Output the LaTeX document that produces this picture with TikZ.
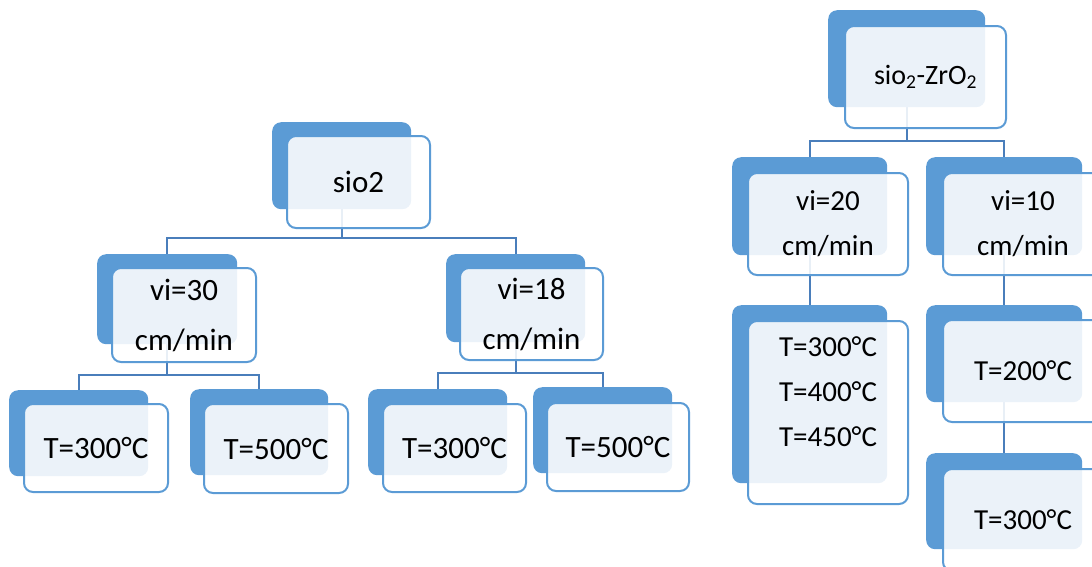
\documentclass[tikz,border=0pt]{standalone}
\usepackage{fontspec}
\setmainfont{Carlito}
\usetikzlibrary{positioning,calc,backgrounds}
\definecolor{smblue}{RGB}{91,155,213}
\definecolor{lnblue}{RGB}{74,126,187}

\begin{document}
\begin{tikzpicture}[
  x=1pt, y=-1pt,
  every node/.style={align=center, inner sep=0pt},
  back/.style={fill=smblue, rounded corners=9pt, anchor=north west},
  front/.style={draw=smblue, line width=2pt, fill=white, fill opacity=0.88,
    text opacity=1, rounded corners=9pt, anchor=north west},
  big/.style={font=\fontsize{31}{50}\selectfont},
  small/.style={font=\fontsize{29}{45}\selectfont},
  link/.style={draw=lnblue, line width=2pt}
]
\useasboundingbox (0,0) rectangle (1092,566);
\clip (0,0) rectangle (1092,566);

% left tree: sio2
\node[back, minimum width=139, minimum height=87] (sioB) at (272,122) {};
\node[front, big, minimum width=143, minimum height=92] (sio) at ($(sioB.north west)+(14,13)$) {sio2};

\node[back, minimum width=140, minimum height=90] (vaB) at (97,254) {};
\node[front, big, minimum width=144, minimum height=94] (va) at ($(vaB.north west)+(14,13)$) {vi=30\\cm/min};
\node[back, minimum width=139, minimum height=88] (vbB) at (446,254) {};
\node[front, big, minimum width=143, minimum height=92] (vb) at ($(vbB.north west)+(13,13)$) {vi=18\\cm/min};

\node[back, minimum width=139, minimum height=86] (taB) at (9,390) {};
\node[front, big, minimum width=144, minimum height=88] (ta) at ($(taB.north west)+(14,13)$) {T=300°C};
\node[back, minimum width=138, minimum height=86] (tbB) at (190,389) {};
\node[front, big, minimum width=144, minimum height=89] (tb) at ($(tbB.north west)+(13,14)$) {T=500°C};
\node[back, minimum width=139, minimum height=86] (tcB) at (368,389) {};
\node[front, big, minimum width=143, minimum height=88] (tc) at ($(tcB.north west)+(14,14)$) {T=300°C};
\node[back, minimum width=139, minimum height=86] (tdB) at (533,387) {};
\node[front, big, minimum width=142, minimum height=88] (td) at ($(tdB.north west)+(13,15)$) {T=500°C};

% right tree: sio2-ZrO2
\node[back, minimum width=157, minimum height=97] (zrB) at (828,10) {};
\node[front, font=\fontsize{28}{32}\selectfont, minimum width=161, minimum height=102] (zr) at ($(zrB.north west)+(16,15)$) {sio\textsubscript{2}-ZrO\textsubscript{2}};

\node[back, minimum width=155, minimum height=98] (vcB) at (732,157) {};
\node[front, small, minimum width=160, minimum height=102] (vc) at ($(vcB.north west)+(15,15)$) {vi=20\\cm/min};
\node[back, minimum width=156, minimum height=98] (vdB) at (926,157) {};
\node[front, small, minimum width=160, minimum height=102] (vd) at ($(vdB.north west)+(16,15)$) {vi=10\\cm/min};

\node[back, minimum width=155, minimum height=178] (teB) at (732,305) {};
\node[front, minimum width=160, minimum height=183] (te) at ($(teB.north west)+(15,15)$) {};
\node[small] (teT) at ([yshift=21pt]te.center) {T=300°C\\T=400°C\\T=450°C};
\node[back, minimum width=156, minimum height=97] (tfB) at (926,305) {};
\node[front, small, minimum width=160, minimum height=102] (tf) at ($(tfB.north west)+(16,14)$) {T=200°C};
\node[back, minimum width=156, minimum height=96] (tgB) at (926,453) {};
\node[front, small, minimum width=160, minimum height=102] (tg) at ($(tgB.north west)+(16,15)$) {T=300°C};

% connectors
\begin{scope}[on background layer]
\draw[link] (sioB.south) -- ++(0,29) -| (vaB.north);
\draw[link] (sioB.south) -- ++(0,29) -| (vbB.north);
\draw[link] (vaB.south) -- ++(0,31) -| (taB.north);
\draw[link] (vaB.south) -- ++(0,31) -| (tbB.north);
\draw[link] (vbB.south) -- ++(0,31) -| (tcB.north);
\draw[link] (vbB.south) -- ++(0,31) -| (tdB.north);
\draw[link] (zrB.south) -- ++(0,34) -| (vcB.north);
\draw[link] (zrB.south) -- ++(0,34) -| (vdB.north);
\draw[link] (vcB.south) -- (teB.north);
\draw[link] (vdB.south) -- (tfB.north);
\draw[link] (tfB.south) -- (tgB.north);
\end{scope}
\end{tikzpicture}
\end{document}
